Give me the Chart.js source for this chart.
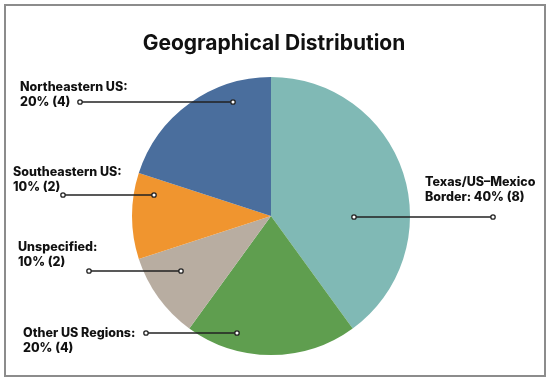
<!DOCTYPE html>
<html lang="en">
<head>
<meta charset="UTF-8">
<title>Geographical Distribution</title>
<style>
  body { margin: 0; background: #fff; }
  .wrap { width: 550px; height: 382px; }
</style>
</head>
<body>
<div class="wrap"><canvas id="myChart" width="550" height="382"></canvas></div>
<script src="https://cdn.jsdelivr.net/npm/chart.js"></script>
<script>
// data
const regions = ['Texas/US\u2013Mexico Border', 'Other US Regions', 'Unspecified', 'Southeastern US', 'Northeastern US'];
const counts = [8, 4, 2, 2, 4];
const percents = [40, 20, 10, 10, 20];
const colors = ['#80b9b5', '#5f9e4f', '#b8ada1', '#f0952f', '#4a6e9d'];

// label text lines + where the text and leader line sit (pixels)
const labelLayout = [
  { lines: ['Texas/US\u2013Mexico', 'Border: 40% (8)'], tx: 425, ty: 182, x1: 354, x2: 493, ly: 217 },
  { lines: ['Other US Regions:', '20% (4)'], tx: 23, ty: 333, x1: 146, x2: 237, ly: 333 },
  { lines: ['Unspecified:', '10% (2)'], tx: 18, ty: 247, x1: 89, x2: 181, ly: 271 },
  { lines: ['Southeastern US:', '10% (2)'], tx: 13, ty: 172, x1: 63, x2: 154, ly: 195 },
  { lines: ['Northeastern US:', '20% (4)'], tx: 20, ty: 87, x1: 80, x2: 233, ly: 102 }
];

const decorPlugin = {
  id: 'decor',
  beforeDraw(chart) {
    const ctx = chart.ctx;
    ctx.save();
    ctx.fillStyle = '#fff';
    ctx.fillRect(0, 0, chart.width, chart.height);
    ctx.restore();
  },
  afterDraw(chart) {
    const ctx = chart.ctx;
    ctx.save();
    // frame
    ctx.strokeStyle = '#8c8c8c';
    ctx.lineWidth = 2;
    ctx.strokeRect(5, 5, 540, 371);
    // title
    ctx.fillStyle = '#111';
    ctx.font = '700 21px Inter, "Open Sans", sans-serif';
    ctx.textAlign = 'center';
    ctx.textBaseline = 'middle';
    ctx.fillText('Geographical Distribution', 274, 44);
    // labels
    ctx.textAlign = 'left';
    ctx.font = '800 12.5px Inter, "Open Sans", sans-serif';
    labelLayout.forEach(l => {
      ctx.fillStyle = '#111';
      l.lines.forEach((t, i) => ctx.fillText(t, l.tx, l.ty + i * 15));
      ctx.strokeStyle = '#222';
      ctx.lineWidth = 1.3;
      ctx.beginPath();
      ctx.moveTo(l.x1, l.ly);
      ctx.lineTo(l.x2, l.ly);
      ctx.stroke();
      [l.x1, l.x2].forEach(x => {
        ctx.beginPath();
        ctx.arc(x, l.ly, 2.2, 0, Math.PI * 2);
        ctx.fillStyle = '#fff';
        ctx.fill();
        ctx.stroke();
      });
    });
    ctx.restore();
  }
};

const ctx = document.getElementById('myChart').getContext('2d');
const myChart = new Chart(ctx, {
  type: 'pie',
  data: {
    labels: regions,
    datasets: [{
      data: counts,
      backgroundColor: colors,
      borderWidth: 0
    }]
  },
  options: {
    responsive: false,
    animation: false,
    layout: { padding: { top: 77, bottom: 27, left: 0, right: 8 } },
    plugins: {
      legend: { display: false },
      tooltip: { enabled: false },
      title: { display: false }
    }
  },
  plugins: [decorPlugin]
});
</script>
</body>
</html>
